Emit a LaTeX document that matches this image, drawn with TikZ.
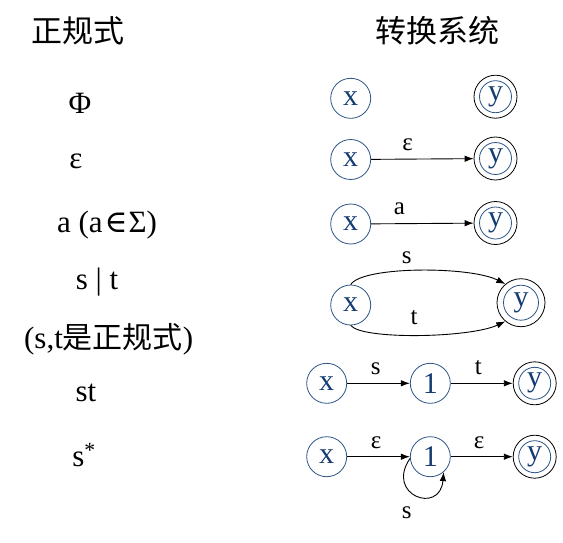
\documentclass[tikz,border=0pt]{standalone}
\usepackage{fontspec}
\setmainfont{Liberation Serif}
\newfontfamily\cjk{Noto Sans CJK SC}
\newfontfamily\sym{DejaVu Serif}
\usetikzlibrary{arrows.meta}
\definecolor{circblue}{RGB}{45,85,135}
\definecolor{txtblue}{RGB}{20,60,115}
\tikzset{
  xstate/.style={circle, draw=circblue, line width=0.8pt, minimum size=40pt, inner sep=0pt,
    text=txtblue, font=\fontsize{30}{32}\selectfont},
  ystate/.style={circle, draw=black, line width=0.8pt, minimum size=43pt, inner sep=0pt,
    text=txtblue, font=\fontsize{30}{32}\selectfont,
    path picture={\draw[circblue, line width=0.8pt] (path picture bounding box.center) circle (16pt);}},
  ybig/.style={ystate, minimum size=48pt,
    path picture={\draw[circblue, line width=0.8pt] (path picture bounding box.center) circle (17.5pt);}},
  edge/.style={line width=0.9pt, -{Latex[length=9pt,width=6.5pt]}},
  lbl/.style={inner sep=0pt, font=\fontsize{25}{27}\selectfont},
  lefttxt/.style={inner sep=0pt, font=\fontsize{31}{33}\selectfont},
  title/.style={inner sep=0pt, font=\fontsize{31}{33}\selectfont\cjk},
}
\begin{document}
\begin{tikzpicture}[x=1pt,y=-1pt]
\useasboundingbox[fill=white] (0,0) rectangle (563,542);
% titles
\node[title] (t1) at (78,31) {正规式};
\node[title] (t2) at (437,31) {转换系统};
% left column
\node[lefttxt] (r1) at (80,103) {Φ};
\node[lefttxt] (r2) at (76,161) {ε};
\node[lefttxt] (r3) at (107,225) {a (a\kern2pt{\sym\fontsize{31}{33}\selectfont ∈}\kern1pt Σ)};
\node[lefttxt] (r4) at (97,282) {s | t};
\node[lefttxt] (r4b) at (108.7,339) {(s,t{\cjk\fontsize{30}{32}\selectfont 是正规式})};
\node[lefttxt] (r5) at (86,393) {st};
\node[lefttxt] (r6) at (84,455) {s\textsuperscript{*}};
% row 1
\node[xstate] (x1) at (350.7,98.3) {x};
\node[ystate] (y1) at (495.5,96.7) {y};
% row 2
\node[xstate] (x2) at (350.7,159.5) {x};
\node[ystate] (y2) at (495.5,158.5) {y};
\draw[edge] (x2) -- (y2);
\node[lbl] (l2) at (407.7,145) {ε};
% row 3
\node[xstate] (x3) at (350.7,224) {x};
\node[ystate] (y3) at (495.5,223) {y};
\draw[edge] (x3) -- (y3);
\node[lbl] (l3) at (399.3,209) {a};
% row 4
\node[xstate] (x4) at (350.7,305) {x};
\node[ybig] (y4) at (521,302.7) {y};
\draw[edge] (x4.north) .. controls (362,266) and (470,266) .. (y4.130);
\draw[edge] (x4.south) .. controls (362,340) and (470,338) .. (y4.230);
\node[lbl] (l4a) at (406.7,258) {s};
\node[lbl] (l4b) at (414,318) {t};
% row 5
\node[xstate] (x5) at (326.7,383.3) {x};
\node[xstate] (n5) at (430.3,383.3) {1};
\node[ystate] (y5) at (534.7,383.3) {y};
\draw[edge] (x5) -- (n5);
\draw[edge] (n5) -- (y5);
\node[lbl] (l5a) at (375.7,369) {s};
\node[lbl] (l5b) at (478.3,368) {t};
% row 6
\node[xstate] (x6) at (326.7,456.7) {x};
\node[xstate] (n6) at (430.3,456.7) {1};
\node[ystate] (y6) at (534.7,456.7) {y};
\draw[edge] (x6) -- (n6);
\draw[edge] (n6) -- (y6);
\node[lbl] (l6a) at (376,443) {ε};
\node[lbl] (l6b) at (479,443) {ε};
\draw[edge] (n6.185) .. controls (385,495) and (440,515) .. (n6.311);
\node[lbl] (l6c) at (406.7,513) {s};
\end{tikzpicture}
\end{document}
